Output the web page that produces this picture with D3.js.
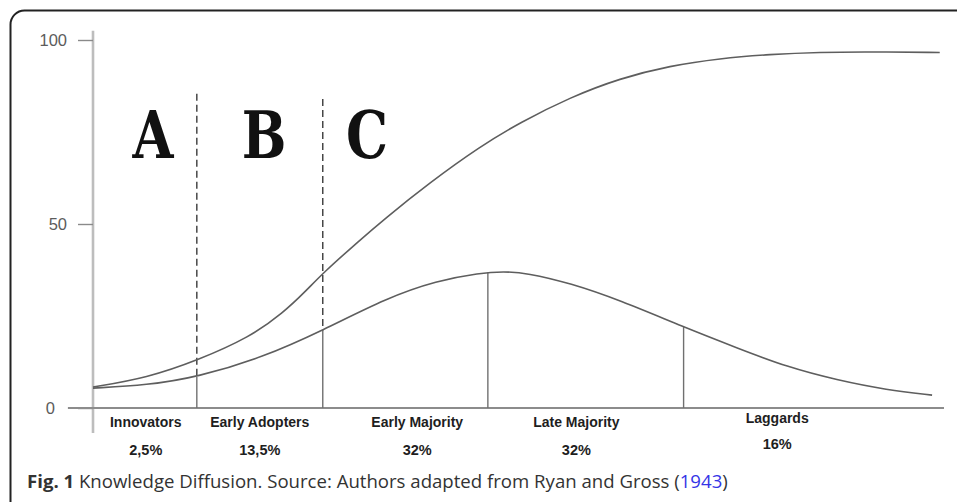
<!DOCTYPE html>
<html>
<head>
<meta charset="utf-8">
<script src="https://cdn.jsdelivr.net/npm/d3@7"></script>
<style>
  html, body { margin: 0; padding: 0; background: #fff; }
  svg { display: block; }
</style>
</head>
<body>
<svg id="chart" width="957" height="502"></svg>
<script>
// ---------- DATA ----------
// x in "time" units (0..100), y in percent (0..100)
const upperX = [0, 6.35, 12.34, 18.45, 22.33, 25.15, 27.03, 31.4, 34.1, 39.6, 45.5, 50.2, 56.05, 61.93, 67.8, 73.68, 79.55, 85.43, 91.3, 99.5];
const upperY = [5.7, 8.2, 13.0, 19.3, 25.8, 32.1, 36.7, 45.7, 51.1, 61.3, 71.1, 77.6, 84.4, 89.6, 93.0, 95.0, 96.1, 96.7, 96.8, 96.6];

const lowerX = [0, 6.35, 12.3, 20.0, 27.0, 34.5, 40.4, 45.5, 48.2, 51.0, 56.1, 61.9, 69.4, 75.7, 81.6, 87.4, 93.3, 98.6];
const lowerY = [5.4, 6.2, 8.4, 13.8, 21.1, 29.9, 34.6, 36.7, 37.1, 36.7, 33.9, 29.3, 22.0, 16.3, 11.1, 7.6, 4.9, 3.5];

// category boundaries (vertical lines)
const boundaryX = [12.2, 27.0, 46.4, 69.4];
const boundaryLow = [8.4, 21.0, 36.8, 22.0];      // lower curve value at boundary
const boundaryDashTop = [85.4, 84.0, null, null];  // dashed extension top

// categories
const categories = ["Innovators", "Early Adopters", "Early Majority", "Late Majority", "Laggards"];
const shares = ["2,5%", "13,5%", "32%", "32%", "16%"];
const categoryX = [6.2, 19.6, 38.1, 56.8, 80.4];

// zone letters
const zoneLetters = ["A", "B", "C"];
const zoneX = [7.05, 20.1, 32.2];
const zoneY = 68;

// y-axis ticks
const yTicks = [0, 50, 100];

// ---------- CHART ----------
const svg = d3.select("#chart");

// frame
svg.append("rect")
  .attr("x", 10.5).attr("y", 10.5)
  .attr("width", 980).attr("height", 540)
  .attr("rx", 14).attr("ry", 14)
  .attr("fill", "none")
  .attr("stroke", "#222")
  .attr("stroke-width", 2);

const x = d3.scaleLinear().domain([0, 100]).range([93, 944]);
const y = d3.scaleLinear().domain([0, 100]).range([408, 40]);

// y axis line
svg.append("line")
  .attr("x1", x(0)).attr("x2", x(0))
  .attr("y1", y(102.5)).attr("y2", y(-6.8))
  .attr("stroke", "#bdbdbd").attr("stroke-width", 2.6);

// y axis ticks & labels
const yAxis = d3.axisLeft(y).tickValues(yTicks).tickSize(15).tickPadding(11);
const yg = svg.append("g").attr("transform", `translate(${x(0)},0)`).call(yAxis);
yg.select(".domain").remove();
yg.selectAll(".tick line").attr("stroke", "#8a8a8a").attr("stroke-width", 1.4);
yg.selectAll(".tick text")
  .attr("font-family", "'Liberation Sans', Arial, sans-serif")
  .attr("font-size", 16.5)
  .attr("fill", "#5c5c5c")
  .attr("x", d => d === 0 ? -38 : -26);

// x axis line
svg.append("line")
  .attr("x1", x(-2.95)).attr("x2", x(100))
  .attr("y1", y(0)).attr("y2", y(0))
  .attr("stroke", "#8c8c8c").attr("stroke-width", 2);

// vertical boundary lines
boundaryX.forEach((bx, i) => {
  svg.append("line")
    .attr("x1", x(bx)).attr("x2", x(bx))
    .attr("y1", y(boundaryLow[i])).attr("y2", y(0))
    .attr("stroke", "#707070").attr("stroke-width", 1.4);
  if (boundaryDashTop[i] !== null) {
    svg.append("line")
      .attr("x1", x(bx)).attr("x2", x(bx))
      .attr("y1", y(boundaryDashTop[i])).attr("y2", y(boundaryLow[i]))
      .attr("stroke", "#3a3a3a").attr("stroke-width", 1.4)
      .attr("stroke-dasharray", "7,4");
  }
});

// curves
const line = d3.line().x(d => x(d[0])).y(d => y(d[1])).curve(d3.curveBasis);
svg.append("path")
  .datum(upperX.map((v, i) => [v, upperY[i]]))
  .attr("d", line)
  .attr("fill", "none").attr("stroke", "#5e5e5e").attr("stroke-width", 1.6);
svg.append("path")
  .datum(lowerX.map((v, i) => [v, lowerY[i]]))
  .attr("d", line)
  .attr("fill", "none").attr("stroke", "#5e5e5e").attr("stroke-width", 1.6);

// zone letters
svg.selectAll("text.zone")
  .data(zoneLetters)
  .join("text")
  .attr("class", "zone")
  .attr("transform", (d, i) => `translate(${x(zoneX[i])},${y(zoneY)}) scale(0.8,1)`)
  .attr("text-anchor", "middle")
  .attr("font-family", "'DejaVu Serif', serif")
  .attr("font-weight", "bold")
  .attr("font-size", 66)
  .attr("fill", "#111")
  .text(d => d);

// category labels
svg.selectAll("text.cat")
  .data(categories)
  .join("text")
  .attr("class", "cat")
  .attr("x", (d, i) => x(categoryX[i]))
  .attr("y", (d, i) => i === 4 ? 423 : 427)
  .attr("text-anchor", "middle")
  .attr("font-family", "'Liberation Sans', Arial, sans-serif")
  .attr("font-weight", "bold")
  .attr("font-size", 14)
  .attr("fill", "#1e1e1e")
  .text(d => d);

svg.selectAll("text.share")
  .data(shares)
  .join("text")
  .attr("class", "share")
  .attr("x", (d, i) => x(categoryX[i]))
  .attr("y", (d, i) => i === 4 ? 449 : 455)
  .attr("text-anchor", "middle")
  .attr("font-family", "'Liberation Sans', Arial, sans-serif")
  .attr("font-weight", "bold")
  .attr("font-size", 14.5)
  .attr("fill", "#1e1e1e")
  .text(d => d);

// caption
const cap = svg.append("text")
  .attr("x", 27).attr("y", 488)
  .attr("font-family", "'Open Sans', 'Noto Sans', sans-serif")
  .attr("font-size", 18.6)
  .attr("fill", "#333");
cap.append("tspan").attr("font-weight", "bold").text("Fig. 1");
cap.append("tspan").text(" Knowledge Diffusion. Source: Authors adapted from Ryan and Gross (");
cap.append("tspan").attr("fill", "#3434e6").text("1943");
cap.append("tspan").text(")");
</script>
</body>
</html>
